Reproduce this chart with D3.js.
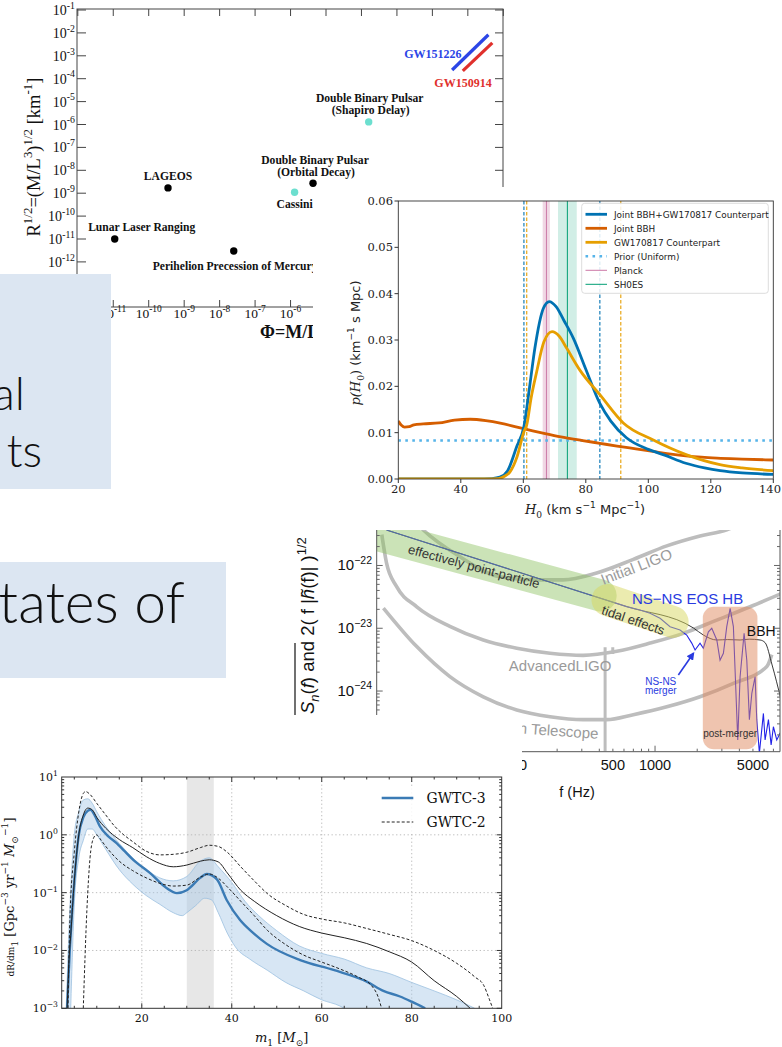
<!DOCTYPE html>
<html><head><meta charset="utf-8">
<script src="https://cdn.jsdelivr.net/npm/d3@7"></script>
<style>body{margin:0;background:#fff}svg{display:block}</style>
</head><body>
<svg id="c" width="782" height="1047"></svg>
<script>
// ================= DATA =================
// Panel A : strong-field tests of GR
const testNames = ["Lunar Laser Ranging","LAGEOS","Perihelion Precession of Mercury","Cassini","Double Binary Pulsar|(Orbital Decay)","Double Binary Pulsar|(Shapiro Delay)"];
const testPhi  = [1.1e-11, 3.5e-10, 2.5e-8, 1.3e-6, 4.3e-6, 1.6e-4];
const testR    = [1.0e-11, 1.7e-9, 3.0e-12, 1.1e-9, 2.7e-9, 1.3e-6];
const testKind = ["solar","solar","solar","cyan","solar","cyan"];
const gwEvents = ["GW151226","GW150914"];
const gwPhi = [[0.036, 0.38],[0.072, 0.49]];
const gwR   = [[2.4e-4, 8.3e-3],[2.2e-4, 3.7e-3]];
const phiTickExps = [-12,-11,-10,-9,-8,-7,-6,-5,-4,-3,-2,-1,0];
const phiLabelExps = [-11,-10,-9,-8,-7,-6];
const rTickExps = [-1,-2,-3,-4,-5,-6,-7,-8,-9,-10,-11,-12,-13,-14];
const rLabelExps = [-1,-2,-3,-4,-5,-6,-7,-8,-9,-10,-11,-12];

// Panel B : H0 posteriors
const h0Joint = [[20,0],[45,0],[50,0.0001],[52.5,0.0004],[55,0.0018],[57.9,0.007],[60.2,0.0113],[62.1,0.0203],[63.7,0.0282],[66.4,0.0368],[68.3,0.0383],[70.5,0.0372],[73,0.0342],[76,0.0304],[80,0.0237],[84.5,0.0163],[88,0.0125],[93,0.0089],[100,0.0064],[105,0.0052],[112,0.0034],[118,0.0024],[123,0.0018],[130,0.0013],[140,0.0010]];
const h0JointBBH = [[20,0.0125],[21,0.0116],[22,0.0112],[23.5,0.0113],[25,0.0117],[28,0.0119],[33,0.0121],[38,0.0127],[43,0.0129],[48,0.0126],[53,0.0120],[58,0.0112],[63,0.0104],[67,0.0098],[72,0.0091],[79,0.0083],[84.5,0.0077],[90,0.0071],[96,0.0065],[102,0.0059],[106,0.0055],[112,0.0050],[117,0.0047],[122,0.0045],[130,0.0043],[140,0.0041]];
const h0Counterpart = [[20,0],[48,0],[52,0.0001],[54,0.0006],[55.7,0.0015],[58,0.0048],[60.2,0.0102],[61.1,0.0117],[62.5,0.0175],[64.3,0.0232],[66.6,0.0296],[69.2,0.0318],[71.5,0.0308],[73.9,0.0282],[78.1,0.0235],[84.5,0.0182],[92,0.0121],[101.6,0.0084],[112.3,0.0052],[122.9,0.0031],[130,0.0024],[140,0.0018]];
const priorDensity = 0.0083;
const planckBand = [66.2, 68.5], planckH0 = 67.4;
const shoesBand = [71.1, 77.1], shoesH0 = 74.1;
const jointCI = [60.2, 84.5], counterpartCI = [61.1, 91.2];
const h0Ticks = [20,40,60,80,100,120,140];
const pTicks = [0,0.01,0.02,0.03,0.04,0.05,0.06];
const h0Legend = ["Joint BBH+GW170817 Counterpart","Joint BBH","GW170817 Counterpart","Prior (Uniform)","Planck","SH0ES"];

// Panel C : strain spectrum vs detector noise
const initialLIGO = [[19.4,5.0e-22],[22.1,3.7e-22],[40.5,1.38e-22],[78,6.6e-23],[143,5.9e-23],[221,5.9e-23],[383,7.6e-23],[700,1.25e-22],[1213,2.05e-22],[2096,2.95e-22],[3254,3.7e-22],[4000,4.5e-22]];
const advancedLIGO = [[11.2,3.1e-22],[12.1,1.1e-22],[14.3,4.6e-23],[19.9,2.2e-23],[34.3,1.07e-23],[59.4,6.5e-24],[103,4.8e-24],[178,4.0e-24],[307,3.7e-24],[533,4.3e-24],[921,5.8e-24],[1592,8.3e-24],[2759,1.35e-23],[4771,2.2e-23],[8035,3.6e-23]];
const einsteinTel = [[11.5,2.1e-23],[19.9,5.1e-24],[34.3,1.7e-24],[59.4,8.1e-25],[103,5.0e-25],[178,3.9e-25],[307,3.5e-25],[452,3.5e-25],[700,4.2e-25],[1213,5.6e-25],[2096,8.1e-25],[3624,1.32e-24],[6281,2.45e-24],[6815,3.8e-24]];
const nsnsSignal = [[12.1,3.67e-22],[628,2.21e-23],[781,1.95e-23],[921,1.73e-23],[1086,1.44e-23],[1280,1.06e-23],[1509,9.4e-24],[1683,7.8e-24],[1828,5.8e-24],[1931,4.5e-24],[2095,5.8e-24],[2213,4.8e-24],[2404,8.8e-24],[2541,1.0e-23],[2760,6.5e-24],[2911,3.1e-24],[3076,4.0e-24],[3251,1.06e-23],[3436,2.08e-23],[3625,1.06e-23],[3727,2.17e-24],[3895,1.66e-25],[4047,1.69e-24],[4323,8.3e-24],[4519,3.1e-24],[4716,3.5e-25],[4909,9.2e-25],[5179,1.69e-24],[5324,3.5e-25],[5559,1.03e-25],[5938,4.4e-25],[6105,1.66e-25],[6449,3.5e-25],[6741,1.39e-25],[6998,2.7e-25],[7398,1.66e-25],[7818,2.15e-25]];
const bbhSignal = [[12.1,3.67e-22],[628,2.21e-23],[1880,1.01e-23],[2213,7.8e-24],[2760,6.5e-24],[3300,6.6e-24],[4047,6.5e-24],[4700,6.7e-24],[5623,6.5e-24],[6105,5.9e-24],[6850,2.6e-24],[7943,7.2e-25]];
const pointParticleBand = [[8,3.57e-22],[409,3.33e-23]];
const tidalBand = [[458,2.82e-23],[1334,1.26e-23]];
const postMergerF = [2193,5383], postMergerH = [1.18e-25,2.2e-23];
const detectorLines = [[440,1.1e-25,5.0e-24],[499,3.9e-24,5.0e-24]];
const fTickLabels = [100,500,1000,5000];
const hTickExps = [-22,-23,-24];

// Panel D : BBH primary mass distribution
const gwtc3Median = [[3.4,0.001],[4,0.01],[5,0.16],[6,1.0],[7,2.0],[8,2.6],[8.6,2.7],[9.5,2.2],[10.7,1.4],[12.5,0.95],[14.4,0.72],[16,0.54],[18.1,0.37],[21.8,0.22],[25.5,0.12],[27.8,0.098],[30,0.11],[33,0.18],[34.4,0.21],[36.7,0.17],[38.9,0.074],[41.8,0.034],[44.8,0.020],[47.8,0.013],[55.2,0.0068],[62.6,0.0046],[70,0.0029],[73.7,0.0020],[77.4,0.0016],[80,0.0013],[83,0.001]];
const gwtc3Upper = [[3.2,0.001],[4,0.05],[5,1.0],[6,2.5],[7,4.0],[8,4.2],[9,3.5],[10,2.5],[12,1.4],[15,0.71],[18,0.4],[21,0.25],[24,0.18],[27,0.16],[30,0.19],[33,0.35],[35,0.40],[37,0.28],[40,0.15],[43,0.07],[46,0.04],[50,0.022],[55,0.012],[60,0.0089],[65,0.0071],[70,0.005],[75,0.004],[80,0.0028],[85,0.002],[90,0.0014],[94,0.001]];
const gwtc3Lower = [[4.2,0.001],[5,0.063],[6,0.4],[7,0.8],[8,1.26],[9,1.26],[10,1.0],[12,0.56],[15,0.25],[18,0.14],[21,0.089],[24,0.063],[27,0.045],[29,0.04],[30,0.045],[32,0.06],[34,0.08],[35.5,0.075],[37,0.045],[39,0.02],[41,0.011],[44,0.0071],[48,0.0045],[52,0.0028],[56,0.002],[60,0.0014],[64,0.0011],[65,0.001]];
const gwtc2Median = [[3.4,0.001],[3.8,0.0063],[4.2,0.018],[5,0.16],[6,1.0],[7,2.2],[8,2.9],[9,2.7],[10,2.0],[12,1.3],[15,0.83],[18,0.6],[21,0.42],[24,0.32],[27,0.28],[30,0.3],[33,0.35],[35,0.37],[37,0.34],[39,0.22],[42,0.11],[45,0.071],[50,0.04],[55,0.026],[60,0.02],[65,0.0166],[70,0.0132],[75,0.0095],[80,0.0063],[85,0.003],[90,0.0016],[93,0.001]];
const gwtc2Upper = [[3.6,0.001],[4,0.032],[5,0.5],[6,2.5],[7,5.2],[7.5,5.6],[8.5,5.0],[10,3.5],[12,2.2],[14,1.4],[16,1.0],[18,0.76],[21,0.52],[24,0.45],[27,0.46],[30,0.5],[33,0.6],[35,0.66],[37,0.63],[39,0.5],[42,0.28],[45,0.16],[48,0.095],[52,0.06],[56,0.042],[60,0.035],[65,0.03],[70,0.024],[75,0.019],[80,0.0148],[85,0.01],[90,0.006],[94,0.0035],[96,0.0025],[97.3,0.0014],[98,0.001]];
const gwtc2Lower = [[7.0,0.001],[7.8,0.05],[8.5,0.4],[9.2,0.85],[9.9,1.0],[11,0.8],[12,0.63],[15,0.35],[18,0.24],[21,0.18],[24,0.145],[27,0.13],[30,0.135],[33,0.185],[35,0.21],[37,0.178],[39,0.126],[42,0.071],[45,0.04],[48,0.022],[52,0.0126],[56,0.0083],[60,0.0063],[64,0.0048],[68,0.0035],[71,0.0025],[72.5,0.0016],[73.3,0.001]];
const massGapBand = [30, 36];
const m1Ticks = [20,40,60,80,100];
const rateTickExps = [1,0,-1,-2,-3];
const massLegend = ["GWTC-3","GWTC-2"];

// Slide text fragments
const slideLines1 = ["al","ts"];
const slideLines2 = ["tates of"];

// ================= HELPERS =================
const svg = d3.select("#c");
const serif = "'Liberation Serif','Times New Roman',serif";
const dserif = "'DejaVu Serif',serif";
const sans = "'Liberation Sans',Arial,sans-serif";
const dsans = "'DejaVu Sans',sans-serif";

function rich(t, parts, size){
  let off = 0;
  for(const p of parts){
    const [txt, kind, attrs] = p;
    let target = 0, fs = size;
    if(kind==='sup'){target=-0.45*size; fs=0.7*size;}
    else if(kind==='sub'){target=0.28*size; fs=0.7*size;}
    const ts = t.append('tspan').attr('font-size', fs).text(txt);
    if(target-off!==0) ts.attr('dy', target-off);
    off = target;
    if(attrs) Object.entries(attrs).forEach(([k,v])=>ts.attr(k,v));
  }
}
let clipN = 0;
function clip(g, x, y, w, h){
  const id = 'clp'+(clipN++);
  svg.append('defs').append('clipPath').attr('id', id).append('rect').attr('x',x).attr('y',y).attr('width',w).attr('height',h);
  return g.append('g').attr('clip-path', `url(#${id})`);
}

// ================= PANEL A =================
(function(){
  const g = svg.append('g');
  const x = d3.scaleLog().domain([1e-12,1]).range([77.8,503.3]);
  const y = d3.scaleLog().domain([1e-14,1e-1]).range([307.7,10]);
  const L=77, R=503, T=9, B=307;
  g.append('rect').attr('x',L).attr('y',T).attr('width',R-L).attr('height',B-T).attr('fill','none').attr('stroke','#444').attr('stroke-width',1);
  phiTickExps.forEach(e=>{
    const px = x(Math.pow(10,e));
    g.append('line').attr('x1',px).attr('x2',px).attr('y1',T).attr('y2',T+7).attr('stroke','#444');
    g.append('line').attr('x1',px).attr('x2',px).attr('y1',B).attr('y2',B-7).attr('stroke','#444');
  });
  phiLabelExps.forEach(e=>{
    const px = x(Math.pow(10,e));
    const t = g.append('text').attr('x',px).attr('y',318).attr('text-anchor','middle').attr('font-family',serif).attr('fill','#111');
    rich(t, [["10"],["-"+(-e),'sup']], 13.5);
  });
  rTickExps.forEach(e=>{
    const py = y(Math.pow(10,e));
    g.append('line').attr('x1',L).attr('x2',L+9).attr('y1',py).attr('y2',py).attr('stroke','#444');
    g.append('line').attr('x1',R).attr('x2',R-8).attr('y1',py).attr('y2',py).attr('stroke','#444');
  });
  rLabelExps.forEach(e=>{
    const py = y(Math.pow(10,e));
    const t = g.append('text').attr('x',75).attr('y',py+5).attr('text-anchor','end').attr('font-family',serif).attr('fill','#111');
    rich(t, [["10"],["-"+(-e),'sup']], 14);
  });
  // axis titles
  const yl = g.append('text').attr('transform','translate(40,157) rotate(-90)').attr('text-anchor','middle').attr('font-family',serif).attr('fill','#111');
  rich(yl, [["R"],["1/2",'sup'],["=(M/L"],["3",'sup'],[")"],["1/2",'sup'],[" [km"],["-1",'sup'],["]"]], 18.5);
  g.append('text').attr('x',260).attr('y',338).attr('font-family',serif).attr('font-weight','bold').attr('font-size',18).attr('fill','#111').text("Φ=M/L");
  // GW lines
  const gwCol = ['#2b45e6','#e0302c'];
  gwEvents.forEach((n,i)=>{
    g.append('line').attr('x1',x(gwPhi[i][0])).attr('y1',y(gwR[i][0])).attr('x2',x(gwPhi[i][1])).attr('y2',y(gwR[i][1]))
      .attr('stroke',gwCol[i]).attr('stroke-width',3.2);
  });
  g.append('text').attr('x',461.5).attr('y',58).attr('text-anchor','end').attr('font-family',serif).attr('font-weight','bold').attr('font-size',12).attr('fill',gwCol[0]).text(gwEvents[0]);
  g.append('text').attr('x',463).attr('y',87).attr('text-anchor','middle').attr('font-family',serif).attr('font-weight','bold').attr('font-size',12).attr('fill',gwCol[1]).text(gwEvents[1]);
  // points and labels
  const lab = [ {dx:27,dy:-8,a:'middle'}, {dx:0,dy:-8,a:'middle'}, {dx:-81,dy:19,a:'start'}, {dx:0,dy:16,a:'middle'}, {dx:2,dy:-19,a:'middle'}, {dx:1,dy:-20,a:'middle'} ];
  testNames.forEach((n,i)=>{
    const px = x(testPhi[i]), py = y(testR[i]);
    g.append('circle').attr('cx',px).attr('cy',py).attr('r',3.7).attr('fill', testKind[i]==='cyan' ? '#6cdfcf' : '#000');
    const lines = n.split('|');
    lines.forEach((ln,k)=>{
      g.append('text').attr('x',px+lab[i].dx + (k?1:0)).attr('y',py+lab[i].dy + k*12).attr('text-anchor',lab[i].a)
        .attr('font-family',serif).attr('font-weight','bold').attr('font-size',11.6).attr('fill','#111').text(ln);
    });
  });
})();

// ================= PANEL B =================
(function(){
  const g0 = svg.append('g');
  g0.append('rect').attr('x',313).attr('y',187).attr('width',469).attr('height',339).attr('fill','#fff');
  const x = d3.scaleLinear().domain([20,140]).range([398.3,773.3]);
  const y = d3.scaleLinear().domain([0,0.06]).range([479,201]);
  const g = clip(g0, 398.3, 201, 375, 278);
  g.append('rect').attr('x',x(planckBand[0])).attr('width',x(planckBand[1])-x(planckBand[0])).attr('y',201).attr('height',278).attr('fill','#cc79a7').attr('opacity',0.3);
  g.append('rect').attr('x',x(shoesBand[0])).attr('width',x(shoesBand[1])-x(shoesBand[0])).attr('y',201).attr('height',278).attr('fill','#009e73').attr('opacity',0.18);
  g.append('line').attr('x1',x(planckH0)).attr('x2',x(planckH0)).attr('y1',201).attr('y2',479).attr('stroke','#cc79a7').attr('stroke-width',1);
  g.append('line').attr('x1',x(shoesH0)).attr('x2',x(shoesH0)).attr('y1',201).attr('y2',479).attr('stroke','#009e73').attr('stroke-width',1);
  jointCI.forEach(v=>g.append('line').attr('x1',x(v)).attr('x2',x(v)).attr('y1',201).attr('y2',479).attr('stroke','#0072b2').attr('stroke-width',1.1).attr('stroke-dasharray','3.5,2'));
  counterpartCI.forEach(v=>g.append('line').attr('x1',x(v)).attr('x2',x(v)).attr('y1',201).attr('y2',479).attr('stroke','#e69f00').attr('stroke-width',1.1).attr('stroke-dasharray','3.5,2'));
  g.append('line').attr('x1',398.3).attr('x2',773.3).attr('y1',y(priorDensity)).attr('y2',y(priorDensity)).attr('stroke','#56b4e9').attr('stroke-width',2.6).attr('stroke-dasharray','2.6,4.4');
  const line = d3.line().x(d=>x(d[0])).y(d=>y(d[1])).curve(d3.curveMonotoneX);
  g.append('path').attr('d',line(h0JointBBH)).attr('fill','none').attr('stroke','#d55e00').attr('stroke-width',2.8);
  g.append('path').attr('d',line(h0Joint)).attr('fill','none').attr('stroke','#0072b2').attr('stroke-width',2.8);
  g.append('path').attr('d',line(h0Counterpart)).attr('fill','none').attr('stroke','#e69f00').attr('stroke-width',2.8);
  g0.append('rect').attr('x',398.3).attr('y',201).attr('width',375).attr('height',278).attr('fill','none').attr('stroke','#333').attr('stroke-width',0.9);
  pTicks.forEach(v=>{
    g0.append('line').attr('x1',394.5).attr('x2',398.3).attr('y1',y(v)).attr('y2',y(v)).attr('stroke','#333');
    g0.append('text').attr('x',393).attr('y',y(v)+4).attr('text-anchor','end').attr('font-family',dserif).attr('font-size',11.5).attr('fill','#222').text(d3.format('.2f')(v));
  });
  h0Ticks.forEach(v=>{
    g0.append('line').attr('x1',x(v)).attr('x2',x(v)).attr('y1',479).attr('y2',483).attr('stroke','#333');
    g0.append('text').attr('x',Math.min(x(v),770)).attr('y',493).attr('text-anchor','middle').attr('font-family',dserif).attr('font-size',11.5).attr('fill','#222').text(v);
  });
  const xl = g0.append('text').attr('x',585).attr('y',514).attr('text-anchor','middle').attr('font-family',dsans).attr('fill','#222');
  rich(xl, [["H",null,{'font-family':dserif,'font-style':'italic'}],["0",'sub',{'font-family':dserif}],[" (km s"],["−1",'sup'],[" Mpc"],["−1",'sup'],[")"]], 13);
  const yl = g0.append('text').attr('transform','translate(360,343) rotate(-90)').attr('text-anchor','middle').attr('font-family',dsans).attr('fill','#222');
  rich(yl, [["p(H",null,{'font-family':dserif,'font-style':'italic'}],["0",'sub',{'font-family':dserif}],[")",null,{'font-family':dserif}],[" (km"],["−1",'sup'],[" s Mpc)"]], 13);
  // legend
  const lg = g0.append('g');
  lg.append('rect').attr('x',581.7).attr('y',203.3).attr('width',186.6).attr('height',90).attr('rx',3).attr('fill','#fff').attr('fill-opacity',0.85).attr('stroke','#ddd');
  const st = [
    {c:'#0072b2',w:2.8},{c:'#d55e00',w:2.8},{c:'#e69f00',w:2.8},{c:'#56b4e9',w:2.6,d:'2.6,4.4'},{c:'#cc79a7',w:1},{c:'#009e73',w:1}];
  h0Legend.forEach((n,i)=>{
    const yy = 214.3 + i*14;
    const l = lg.append('line').attr('x1',585.5).attr('x2',607).attr('y1',yy).attr('y2',yy).attr('stroke',st[i].c).attr('stroke-width',st[i].w);
    if(st[i].d) l.attr('stroke-dasharray',st[i].d);
    lg.append('text').attr('x',614).attr('y',yy+3.3).attr('font-family',dsans).attr('font-size',8.9).attr('fill','#222').text(n);
  });
})();

// ================= PANEL C =================
(function(){
  const g0 = svg.append('g');
  g0.append('rect').attr('x',290).attr('y',526).attr('width',492).attr('height',280).attr('fill','#fff');
  const x = d3.scaleLog().domain([10.3,7800]).range([376.7,780]);
  const y = d3.scaleLog().domain([1.081e-25,3.673e-22]).range([751.7,530]);
  const g = clip(g0, 376.7, 530, 403.3, 221.7);
  const line = d3.line().x(d=>x(d[0])).y(d=>y(d[1])).curve(d3.curveMonotoneX);
  const lin = d3.line().x(d=>x(d[0])).y(d=>y(d[1]));
  [initialLIGO, advancedLIGO, einsteinTel].forEach(dat=>{
    g.append('path').attr('d',line(dat)).attr('fill','none').attr('stroke','#bdbdbd').attr('stroke-width',3.6);
  });
  detectorLines.forEach(d=>{
    g.append('line').attr('x1',x(d[0])).attr('x2',x(d[0])).attr('y1',y(d[1])).attr('y2',y(d[2])).attr('stroke','#bdbdbd').attr('stroke-width',3);
  });
  g.append('path').attr('d',line(bbhSignal)).attr('fill','none').attr('stroke','#222').attr('stroke-width',0.9);
  g.append('path').attr('d',lin(nsnsSignal)).attr('fill','none').attr('stroke','#2323e8').attr('stroke-width',1.1);
  // shaded regions
  g.append('path').attr('d',lin(pointParticleBand)).attr('stroke','#8cc060').attr('stroke-opacity',0.45).attr('stroke-width',32).attr('stroke-linecap','round');
  g.append('path').attr('d',lin(tidalBand)).attr('stroke','#d8d860').attr('stroke-opacity',0.5).attr('stroke-width',32).attr('stroke-linecap','round');
  g.append('rect').attr('x',x(postMergerF[0])).attr('width',x(postMergerF[1])-x(postMergerF[0])).attr('y',y(postMergerH[1])).attr('height',y(postMergerH[0])-y(postMergerH[1])).attr('rx',11).attr('fill','#e08a60').attr('opacity',0.5);
  // annotations
  const lt = (f,h,txt,o)=>{
    const t = g.append('text').attr('font-family',sans).attr('font-size',o.fs).attr('fill',o.c).attr('text-anchor',o.a||'middle')
      .attr('transform',`translate(${x(f)},${y(h)}) rotate(${o.r||0})`).text(txt);
    return t;
  };
  lt(760,0.8e-22,"Initial LIGO",{fs:15,c:'#9a9a9a',r:-21});
  lt(210,2.05e-24,"AdvancedLIGO",{fs:15,c:'#9a9a9a'});
  lt(392,1.73e-25,"Einstein Telescope",{fs:15,c:'#9a9a9a',r:4,a:'end'});
  lt(50,8.2e-23,"effectively point-particle",{fs:13,c:'#333',r:15});
  lt(682,1.15e-23,"tidal effects",{fs:13,c:'#333',r:19});
  lt(1706,2.44e-23,"NS−NS EOS HB",{fs:15,c:'#2a3be0'});
  lt(4520,7.5e-24,"BBH",{fs:14,c:'#111',a:'start'});
  lt(3436,1.86e-25,"post-merger",{fs:10,c:'#333'});
  lt(1098,1.25e-24,"NS-NS",{fs:10,c:'#2a3be0'});
  lt(1098,9.0e-25,"merger",{fs:10,c:'#2a3be0'});
  svg.append('defs').append('marker').attr('id','arr').attr('viewBox','0 0 10 10').attr('refX',8).attr('refY',5).attr('markerWidth',5).attr('markerHeight',5).attr('orient','auto')
    .append('path').attr('d','M0,0 L10,5 L0,10 z').attr('fill','#2a3be0');
  g.append('line').attr('x1',x(1467)).attr('y1',y(1.8e-24)).attr('x2',x(1880)).attr('y2',y(4.0e-24)).attr('stroke','#2a3be0').attr('stroke-width',1.6).attr('marker-end','url(#arr)');
  // axes
  g0.append('line').attr('x1',376.7).attr('x2',376.7).attr('y1',530).attr('y2',751.7).attr('stroke','#555');
  g0.append('line').attr('x1',780).attr('x2',780).attr('y1',530).attr('y2',751.7).attr('stroke','#555');
  g0.append('line').attr('x1',376.7).attr('x2',780).attr('y1',751.7).attr('y2',751.7).attr('stroke','#555');
  for(let e=-25;e<=-22;e++){
    for(let m=1;m<10;m++){
      const v = m*Math.pow(10,e);
      if(v<1.081e-25 || v>3.673e-22) continue;
      const py = y(v), len = m===1?6:3;
      g0.append('line').attr('x1',376.7).attr('x2',376.7+len).attr('y1',py).attr('y2',py).attr('stroke','#666');
      g0.append('line').attr('x1',780).attr('x2',780-len).attr('y1',py).attr('y2',py).attr('stroke','#666');
    }
  }
  for(let e=1;e<=3;e++){
    for(let m=1;m<10;m++){
      const v = m*Math.pow(10,e);
      if(v<10.3||v>7800) continue;
      const px = x(v), len = m===1?6:3;
      g0.append('line').attr('x1',px).attr('x2',px).attr('y1',751.7).attr('y2',751.7-len).attr('stroke','#666');
    }
  }
  hTickExps.forEach(e=>{
    const t = g0.append('text').attr('x',372).attr('y',y(Math.pow(10,e))+5).attr('text-anchor','end').attr('font-family',sans).attr('fill','#111');
    rich(t, [["10"],["−"+(-e),'sup']], 15);
  });
  fTickLabels.forEach(v=>{
    g0.append('text').attr('x',x(v)).attr('y',770).attr('text-anchor','middle').attr('font-family',sans).attr('font-size',14.5).attr('fill','#111').text(v);
  });
  g0.append('text').attr('x',577).attr('y',797).attr('text-anchor','middle').attr('font-family',sans).attr('font-size',14.5).attr('fill','#111').text("f (Hz)");
  const yl = g0.append('text').attr('transform','translate(314,714) rotate(-90)').attr('font-family',sans).attr('fill','#111');
  rich(yl, [["S",null,{'font-style':'italic'}],["n",'sub',{'font-style':'italic'}],["(",null],["f",null,{'font-style':'italic'}],[")  and  2( f |"],["h̃",null,{'font-style':'italic'}],["(f)| )"],["1/2",'sup']], 18.5);
  g0.append('line').attr('x1',295).attr('x2',295).attr('y1',643).attr('y2',715).attr('stroke','#111').attr('stroke-width',1.2);
})();

// ================= PANEL D =================
(function(){
  const g0 = svg.append('g');
  g0.append('rect').attr('x',0).attr('y',715).attr('width',522).attr('height',332).attr('fill','#fff');
  const x = d3.scaleLinear().domain([2.2,100]).range([61.7,501.7]);
  const y = d3.scaleLog().domain([1e-3,10]).range([1008.3,777]);
  const T=777, B=1008.3, L=61.7, R=501.7;
  const g = clip(g0, L, T, R-L, B-T);
  g.append('rect').attr('x',x(massGapBand[0])).attr('width',x(massGapBand[1])-x(massGapBand[0])).attr('y',T).attr('height',B-T).attr('fill','#e7e7e7');
  [20,40,60,80].forEach(v=>g.append('line').attr('x1',x(v)).attr('x2',x(v)).attr('y1',T).attr('y2',B).attr('stroke','#b5b5b5').attr('stroke-width',0.9).attr('stroke-dasharray','1.3,2.5'));
  [1,0.1,0.01].forEach(v=>g.append('line').attr('x1',L).attr('x2',R).attr('y1',y(v)).attr('y2',y(v)).attr('stroke','#b5b5b5').attr('stroke-width',0.9).attr('stroke-dasharray','1.3,2.5'));
  const line = d3.line().x(d=>x(d[0])).y(d=>y(d[1])).curve(d3.curveMonotoneX);
  const bandPath = line(gwtc3Upper) + 'L' + line(gwtc3Lower.slice().reverse()).slice(1) + 'Z';
  g.append('path').attr('d',bandPath).attr('fill','#a6c8e6').attr('fill-opacity',0.45).attr('stroke','none');
  g.append('path').attr('d',line(gwtc3Upper)).attr('fill','none').attr('stroke','#9cc0e0').attr('stroke-width',0.8);
  g.append('path').attr('d',line(gwtc3Lower)).attr('fill','none').attr('stroke','#9cc0e0').attr('stroke-width',0.8);
  g.append('path').attr('d',line(gwtc3Median)).attr('fill','none').attr('stroke','#3b7bb5').attr('stroke-width',2.4);
  g.append('path').attr('d',line(gwtc2Median)).attr('fill','none').attr('stroke','#222').attr('stroke-width',1);
  g.append('path').attr('d',line(gwtc2Upper)).attr('fill','none').attr('stroke','#222').attr('stroke-width',1).attr('stroke-dasharray','3,2');
  g.append('path').attr('d',line(gwtc2Lower)).attr('fill','none').attr('stroke','#222').attr('stroke-width',1).attr('stroke-dasharray','3,2');
  // legend
  g0.append('rect').attr('x',374).attr('y',786).attr('width',124).attr('height',46).attr('fill','#fff').attr('fill-opacity',0.85);
  g0.append('line').attr('x1',381.7).attr('x2',413.3).attr('y1',798).attr('y2',798).attr('stroke','#3b7bb5').attr('stroke-width',2.4);
  g0.append('line').attr('x1',381.7).attr('x2',413.3).attr('y1',822).attr('y2',822).attr('stroke','#222').attr('stroke-width',1).attr('stroke-dasharray','3,2');
  massLegend.forEach((n,i)=>g0.append('text').attr('x',426.5).attr('y',803+i*24).attr('font-family',dserif).attr('font-size',14).attr('fill','#111').text(n));
  // frame + ticks
  g0.append('rect').attr('x',L).attr('y',T).attr('width',R-L).attr('height',B-T).attr('fill','none').attr('stroke','#333').attr('stroke-width',1);
  for(let e=-3;e<=0;e++){
    for(let m=1;m<10;m++){
      const v=m*Math.pow(10,e), py=y(v), len=m===1?5:2.5;
      g0.append('line').attr('x1',L).attr('x2',L+len).attr('y1',py).attr('y2',py).attr('stroke','#333');
      g0.append('line').attr('x1',R).attr('x2',R-len).attr('y1',py).attr('y2',py).attr('stroke','#333');
    }
  }
  for(let v=5; v<100; v+=5){
    const px=x(v), len = v%20===0?5:2.5;
    g0.append('line').attr('x1',px).attr('x2',px).attr('y1',B).attr('y2',B-len).attr('stroke','#333');
    g0.append('line').attr('x1',px).attr('x2',px).attr('y1',T).attr('y2',T+len).attr('stroke','#333');
  }
  rateTickExps.forEach(e=>{
    const t = g0.append('text').attr('x',58).attr('y',y(Math.pow(10,e))+4).attr('text-anchor','end').attr('font-family',dserif).attr('fill','#111');
    rich(t, [["10"],[e<0?"−"+(-e):String(e),'sup']], 11);
  });
  m1Ticks.forEach(v=>g0.append('text').attr('x',x(v)).attr('y',1022).attr('text-anchor','middle').attr('font-family',dserif).attr('font-size',11).attr('fill','#111').text(v));
  const xl = g0.append('text').attr('x',281.7).attr('y',1042).attr('text-anchor','middle').attr('font-family',dserif).attr('fill','#111');
  rich(xl, [["m",null,{'font-style':'italic'}],["1",'sub'],[" ["],["M",null,{'font-style':'italic'}],["⊙",'sub'],["]"]], 13);
  const yl = g0.append('text').attr('transform','translate(14,897) rotate(-90)').attr('text-anchor','middle').attr('font-family',dserif).attr('fill','#111');
  rich(yl, [["dR/dm",null,{'font-size':9}],["1",'sub'],[" [Gpc"],["−3",'sup'],[" yr"],["−1",'sup'],[" M",null,{'font-style':'italic'}],["⊙",'sub'],["−1",'sup'],["]"]], 13);
})();

// ================= SLIDE BOXES =================
(function(){
  const g = svg.append('g');
  g.append('rect').attr('x',0).attr('y',274).attr('width',111).attr('height',215).attr('fill','#dce6f2');
  g.append('rect').attr('x',0).attr('y',562).attr('width',226).attr('height',116).attr('fill','#dce6f2');
  const f = "Lato,'Noto Sans',sans-serif";
  g.append('text').attr('x',25).attr('y',410).attr('text-anchor','end').attr('font-family',f).attr('font-weight',300).attr('font-size',46).attr('fill','#111').text(slideLines1[0]);
  g.append('text').attr('x',42).attr('y',467).attr('text-anchor','end').attr('font-family',f).attr('font-weight',300).attr('font-size',46).attr('fill','#111').text(slideLines1[1]);
  g.append('text').attr('x',185).attr('y',623).attr('text-anchor','end').attr('font-family',f).attr('font-weight',300).attr('font-size',57).attr('fill','#111').text(slideLines2[0]);
})();
</script>
</body></html>
